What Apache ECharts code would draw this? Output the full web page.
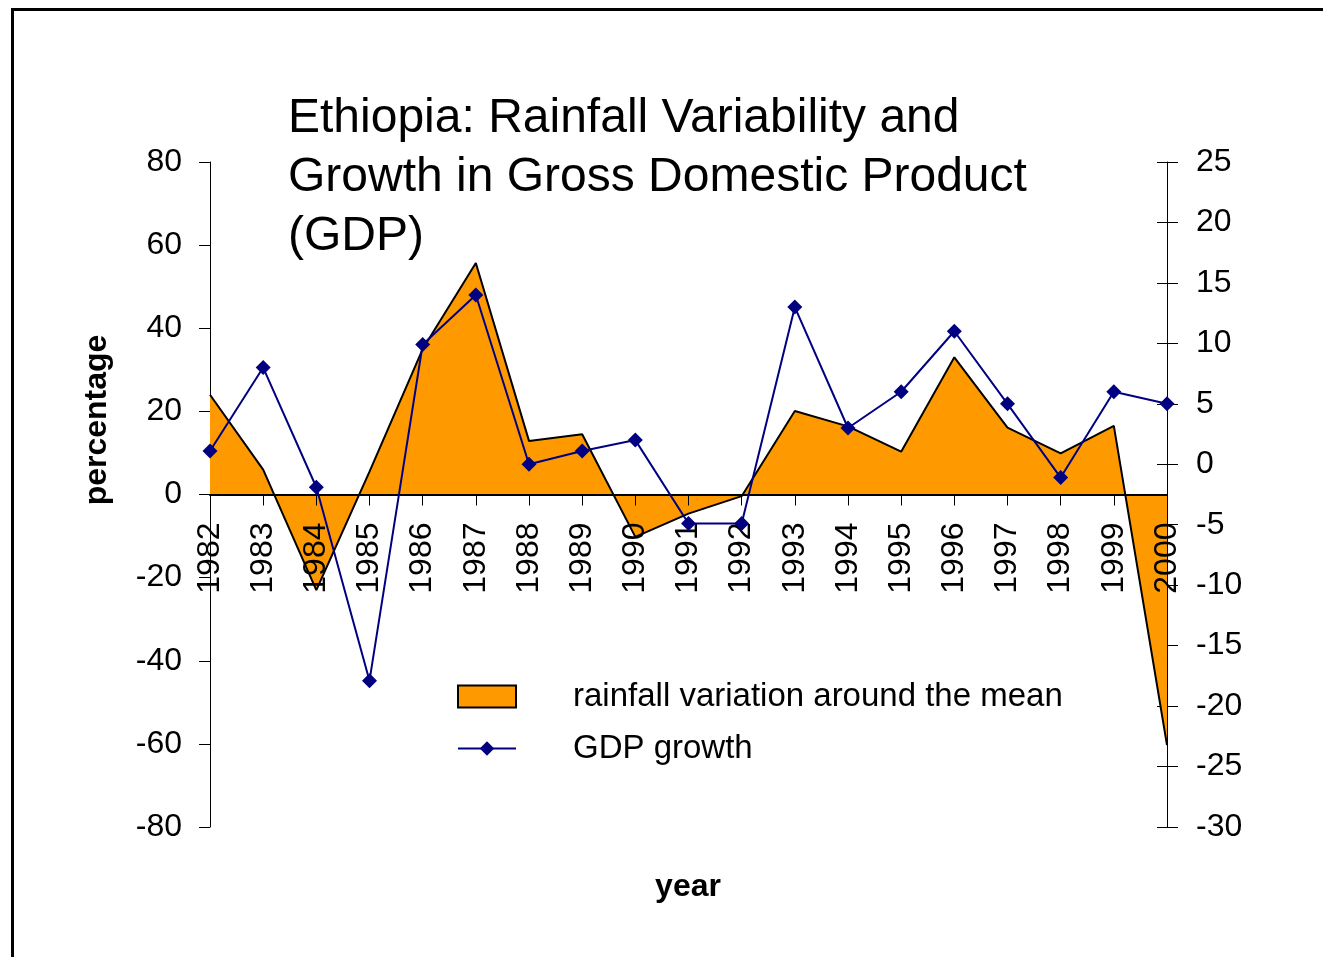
<!DOCTYPE html>
<html>
<head>
<meta charset="utf-8">
<script src="https://cdn.jsdelivr.net/npm/echarts@6/dist/echarts.min.js"></script>
<style>
  html, body { margin: 0; padding: 0; background: #fff; }
  #chart { width: 1323px; height: 957px; }
  /* frame of the original slide */
  #frame {
    position: absolute; left: 11px; top: 8px; width: 1400px; height: 1000px;
    border-top: 3px solid #000; border-left: 3px solid #000; pointer-events: none;
  }
</style>
</head>
<body>
<div id="chart"></div>
<div id="frame"></div>
<script>
// years on the x axis
const years = ['1982', '1983', '1984', '1985', '1986', '1987', '1988', '1989', '1990', '1991',
  '1992', '1993', '1994', '1995', '1996', '1997', '1998', '1999', '2000']
// rainfall variation around the mean, % (left axis)
const rainfall = [24, 6, -23, 5.5, 35, 55.7, 12.9, 14.5, -10.2, -4.6,
  -0.4, 20.1, 16.4, 10.3, 33, 16.1, 9.9, 16.5, -60.3]
// GDP growth, % (right axis)
const gdpGrowth = [1.1, 8, -1.9, -17.9, 9.9, 14, 0, 1.1, 2, -4.9,
  -4.9, 13, 3, 6, 11, 5, -1.1, 6, 5]

const font = 'Liberation Sans, Arial, sans-serif'
const chart = echarts.init(document.getElementById('chart'))

// grid box; the x axis is lifted to the left axis' zero line
const gridTop = 162
const gridBottom = 130
const plotH = 957 - gridTop - gridBottom
const zeroOffset = -plotH * (80 / 160)

const option = {
  animation: false,
  textStyle: { fontFamily: font, color: '#000' },
  title: {
    text: 'Ethiopia: Rainfall Variability and\nGrowth in Gross Domestic Product\n(GDP)',
    left: 283,
    top: 84,
    textStyle: { fontFamily: font, fontSize: 48, fontWeight: 'normal', lineHeight: 59, color: '#000' }
  },
  legend: [
    {
      data: [{
        name: 'rainfall variation around the mean',
        icon: 'rect',
        itemStyle: { color: '#FF9900', borderColor: '#000', borderWidth: 2 }
      }],
      left: 457,
      top: 680,
      padding: 0,
      itemWidth: 58,
      itemHeight: 22,
      textStyle: { fontFamily: font, fontSize: 33, color: '#000', padding: [0, 0, 0, 52] }
    },
    {
      data: ['GDP growth'],
      left: 457,
      top: 732,
      padding: 0,
      itemWidth: 58,
      itemHeight: 18,
      textStyle: { fontFamily: font, fontSize: 33, color: '#000', padding: [0, 0, 0, 52] }
    }
  ],
  grid: { left: 210, right: 156, top: gridTop, bottom: gridBottom },
  xAxis: {
    type: 'category',
    data: years,
    boundaryGap: false,
    offset: zeroOffset,
    z: 1.5,
    axisLine: { onZero: false, lineStyle: { color: '#000', width: 2 } },
    axisTick: { alignWithLabel: true, length: 11, lineStyle: { color: '#000' } },
    axisLabel: { rotate: 90, margin: 28, fontSize: 32, color: '#000', fontFamily: font, interval: 0 },
    splitLine: { show: false }
  },
  yAxis: [
    {
      type: 'value',
      min: -80, max: 80, interval: 20,
      axisLine: { show: true, onZero: false, lineStyle: { color: '#000' } },
      axisTick: { show: true, length: 11, lineStyle: { color: '#000' } },
      axisLabel: { margin: 28, fontSize: 32, color: '#000', fontFamily: font },
      splitLine: { show: false }
    },
    {
      type: 'value',
      position: 'right',
      min: -30, max: 25, interval: 5,
      axisLine: { show: true, onZero: false, lineStyle: { color: '#000' } },
      axisTick: { show: true, length: 11, lineStyle: { color: '#000' } },
      axisLabel: { margin: 29, fontSize: 32, color: '#000', fontFamily: font },
      splitLine: { show: false }
    },
    {
      // inner half of the right axis' crossing ticks
      type: 'value',
      position: 'right',
      min: -30, max: 25, interval: 5,
      axisLine: { show: false, onZero: false },
      axisTick: { show: true, inside: true, length: 10, lineStyle: { color: '#000' } },
      axisLabel: { show: false },
      splitLine: { show: false }
    }
  ],
  series: [
    {
      name: 'rainfall variation around the mean',
      type: 'line',
      yAxisIndex: 0,
      z: 1,
      data: rainfall,
      symbol: 'none',
      lineStyle: { color: '#000', width: 2 },
      itemStyle: { color: '#FF9900' },
      areaStyle: { color: '#FF9900', opacity: 1 }
    },
    {
      name: 'GDP growth',
      type: 'line',
      yAxisIndex: 1,
      z: 3,
      data: gdpGrowth,
      symbol: 'diamond',
      symbolSize: 15,
      lineStyle: { color: '#000080', width: 2 },
      itemStyle: { color: '#000080' }
    }
  ],
  graphic: [
    {
      type: 'text',
      x: 97, y: 420,
      rotation: Math.PI / 2,
      style: { text: 'percentage', font: 'bold 32px ' + font, fill: '#000', align: 'center', verticalAlign: 'middle' }
    },
    {
      type: 'text',
      x: 688, y: 887,
      style: { text: 'year', font: 'bold 32px ' + font, fill: '#000', align: 'center', verticalAlign: 'middle' }
    }
  ]
}

chart.setOption(option)
</script>
</body>
</html>
